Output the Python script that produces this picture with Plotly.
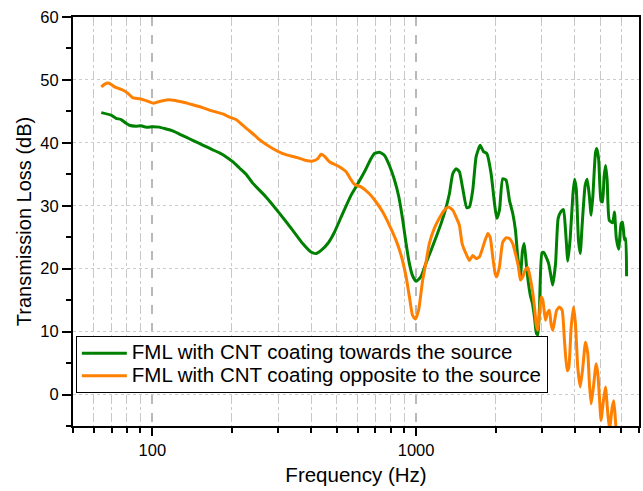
import plotly.graph_objects as go

# ---- data ----
freq_towards = [64, 69.7, 72.8, 76.1, 79.5, 81.8, 86.7, 90.6, 94.6, 100.3, 106.3, 112.7, 119.4, 126.5,
                134.2, 142.2, 150.7, 159.8, 169.4, 179.6, 190, 201.6, 213.8, 226.6, 240, 269.6, 303.4,
                340.6, 371.5, 399.5, 417.5, 436.3, 462.5, 490, 527, 567, 601, 637, 675, 695, 726, 759,
                792, 828, 860, 890, 916, 943, 969, 1000, 1042, 1088, 1139, 1190, 1244, 1300, 1337, 1377,
                1418, 1459, 1503, 1556, 1592, 1640, 1689, 1749, 1801, 1854, 1925, 1982, 2022, 2070, 2130,
                2193, 2258, 2324, 2381, 2428, 2486, 2530, 2570, 2620, 2660, 2710, 2760, 2810, 2860, 2895,
                2936, 3000, 3048, 3092, 3180, 3249, 3296, 3378, 3456, 3546, 3620, 3686, 3760, 3839, 3929,
                3988, 4047, 4127, 4190, 4265, 4374, 4452, 4541, 4610, 4680, 4786, 4840, 4920, 5025, 5090,
                5160, 5230, 5300, 5400, 5560, 5650, 5740, 5860, 5990, 6060, 6130, 6170, 6230, 6280]
tl_towards = [44.8, 44.4, 43.9, 43.7, 43.1, 42.8, 42.65, 42.7, 42.5, 42.55, 42.5, 42.2, 41.9, 41.4,
              40.9, 40.4, 39.9, 39.4, 38.9, 38.4, 37.8, 37.0, 36.0, 35.0, 33.6, 31.4, 28.8,
              26.1, 24.0, 22.65, 22.4, 22.9, 24.0, 25.8, 28.8, 31.7, 33.5, 35.4, 37.5, 38.3, 38.5, 38.0,
              36.4, 34.1, 31.4, 27.7, 24.0, 20.8, 18.9, 18.0, 18.7, 20.8, 22.9, 25.0, 27.2, 29.8, 31.9, 35.1,
              35.9, 35.4, 32.7, 29.7, 29.8, 32.5, 37.8, 39.6, 38.6, 38.3, 35.1, 30.4, 28.0, 29.3, 34.3,
              34.1, 30.9, 28.8, 26.1, 21.9, 18.8, 22.8, 24.0, 20.5, 18.0, 15.8, 14.5, 12.3, 9.7, 9.5,
              13.9, 22.5, 22.6, 22.1, 20.8, 18.7, 17.4, 20.8, 28.0, 29.1, 29.4, 26.1, 21.2, 24.8, 31.7,
              34.2, 32.7, 24.5, 22.4, 27.2, 33.2, 34.2, 31.4, 28.5, 31.6, 38.4, 39.1, 37.5, 30.8, 30.6,
              34.6, 36.4, 34.1, 27.7, 27.3, 29.0, 24.9, 23.1, 27.2, 27.4, 25.5, 24.6, 24.8, 18.8]

freq_opposite = [64, 65.8, 67.7, 69.7, 71.8, 75.0, 77.2, 80.6, 84.1, 89.3, 93.3, 97.4, 100.9, 104.7,
                 109.4, 115.9, 122.9, 130.3, 138.1, 146.4, 155.2, 164.5, 174.4, 184.8, 195.9, 207.6,
                 220, 233.3, 247.3, 254.5, 285.6, 311.9, 350.8, 382.6, 405.7, 423.8, 436.3, 448.9,
                 469.2, 511.5, 542.7, 567.3, 583.8, 618.5, 664.8, 705, 747.2, 792, 839.6, 877.6, 916.5,
                 943.3, 969, 993.5, 1022, 1058, 1088, 1122, 1172, 1224, 1279, 1329, 1377, 1418, 1459,
                 1494, 1538, 1592, 1640, 1689, 1739, 1816, 1870, 1909, 1952, 1994, 2022, 2070, 2130,
                 2193, 2258, 2324, 2393, 2443, 2486, 2537, 2588, 2650, 2688, 2748, 2811, 2851, 2893,
                 2936, 2979, 3023, 3092, 3155, 3200, 3249, 3296, 3344, 3412, 3493, 3578, 3651, 3738,
                 3792, 3872, 3954, 4020, 4101, 4190, 4286, 4386, 4476, 4541, 4610, 4702, 4816, 4886,
                 4955, 5025, 5129, 5224, 5333, 5413, 5540, 5617, 5700, 5733]
tl_opposite = [48.9, 49.3, 49.5, 49.3, 48.9, 48.6, 48.4, 47.9, 47.2, 47.0, 46.8, 46.5, 46.3, 46.5,
               46.7, 46.85, 46.7, 46.5, 46.2, 45.9, 45.6, 45.2, 44.9, 44.6, 44.1, 43.7,
               42.8, 41.9, 41.0, 40.5, 39.1, 38.3, 37.7, 37.2, 37.1, 37.5, 38.2, 37.9,
               37.0, 36.2, 35.4, 34.1, 33.4, 33.0, 31.9, 30.6, 29.0, 26.9, 24.5, 22.1, 18.7,
               15.5, 12.6, 12.0, 13.4, 18.1, 20.8, 24.0, 26.4, 28.0, 29.3, 29.8, 29.3, 28.2, 26.9,
               24.0, 22.6, 21.3, 22.1, 21.6, 21.9, 24.2, 25.6, 25.0, 21.9, 19.2, 18.7, 20.3, 24.2,
               24.9, 24.8, 24.0, 22.0, 20.3, 18.2, 18.7, 19.7, 20.2, 19.2, 17.1, 13.9, 11.2, 10.2,
               12.8, 15.5, 15.0, 11.8, 13.1, 13.4, 11.2, 10.2, 11.5, 13.4, 13.9, 13.4, 8.6, 3.8,
               4.3, 10.7, 13.9, 11.2, 4.3, 1.2, 4.3, 8.3, 6.5, 1.7, -1.5, 1.2, 4.9, 3.3,
               -0.4, -4.1, -1.0, 1.2, -3.1, -5.5, -2.0, -1.0, -4.1, -6.0]

series_names = ["FML with CNT coating towards the source",
                "FML with CNT coating opposite to the source"]
series_colors = ["#008000", "#FF8000"]

x_major_ticks = [100, 1000]
x_minor_ticks = [50, 60, 70, 80, 90, 200, 300, 400, 500, 600, 700, 800, 900,
                 2000, 3000, 4000, 5000, 6000, 7000]

FONT = "Liberation Sans, Arial, sans-serif"

fig = go.Figure()
for fx, fy, name, col in [(freq_towards, tl_towards, series_names[0], series_colors[0]),
                          (freq_opposite, tl_opposite, series_names[1], series_colors[1])]:
    fig.add_trace(go.Scatter(x=fx, y=fy, mode="lines",
                             name='<span style="font-size:20.5px">' + name + '</span>',
                             line=dict(color=col, width=3, shape="spline", smoothing=0.5)))

fig.update_layout(
    width=643, height=491,
    margin=dict(l=73, r=4, t=17, b=65),
    paper_bgcolor="white", plot_bgcolor="white",
    font=dict(family=FONT, color="black"),
    showlegend=True,
    legend=dict(x=0.005, y=0.22, xanchor="left", yanchor="top",
                bgcolor="white", bordercolor="black", borderwidth=1,
                font=dict(size=15, family=FONT), itemwidth=45,
                tracegroupgap=0),
)

fig.update_xaxes(
    type="log", range=[1.69897, 3.845098],
    tickmode="array", tickvals=x_major_ticks, ticktext=["100", "1000"],
    ticks="outside", ticklen=8, tickwidth=1.5, tickcolor="black",
    tickfont=dict(size=16.5, family=FONT),
    showline=True, linecolor="black", linewidth=2, mirror=True,
    showgrid=True, gridcolor="#b8b8b8", griddash="dash", gridwidth=1.5,
    minor=dict(tickmode="array", tickvals=x_minor_ticks, ticks="outside", ticklen=5,
               tickwidth=1.5, tickcolor="black",
               showgrid=True, gridcolor="#c8c8c8", griddash="dashdot", gridwidth=1),
    title=dict(text="Frequency (Hz)", font=dict(size=20.5, family=FONT), standoff=10),
    zeroline=False, automargin=False,
)

fig.update_yaxes(
    range=[-5, 60], tickmode="linear", tick0=0, dtick=10,
    ticks="outside", ticklen=9, tickwidth=1.5, tickcolor="black",
    tickfont=dict(size=16.5, family=FONT),
    showline=True, linecolor="black", linewidth=2, mirror=True,
    showgrid=True, gridcolor="#cccccc", griddash="dot", gridwidth=1,
    minor=dict(dtick=5, ticks="outside", ticklen=5, tickwidth=1.5, tickcolor="black", showgrid=False),
    title=dict(text="Transmission Loss (dB)", font=dict(size=20, family=FONT), standoff=3),
    zeroline=False, automargin=False,
)

fig.write_html("out.html")
